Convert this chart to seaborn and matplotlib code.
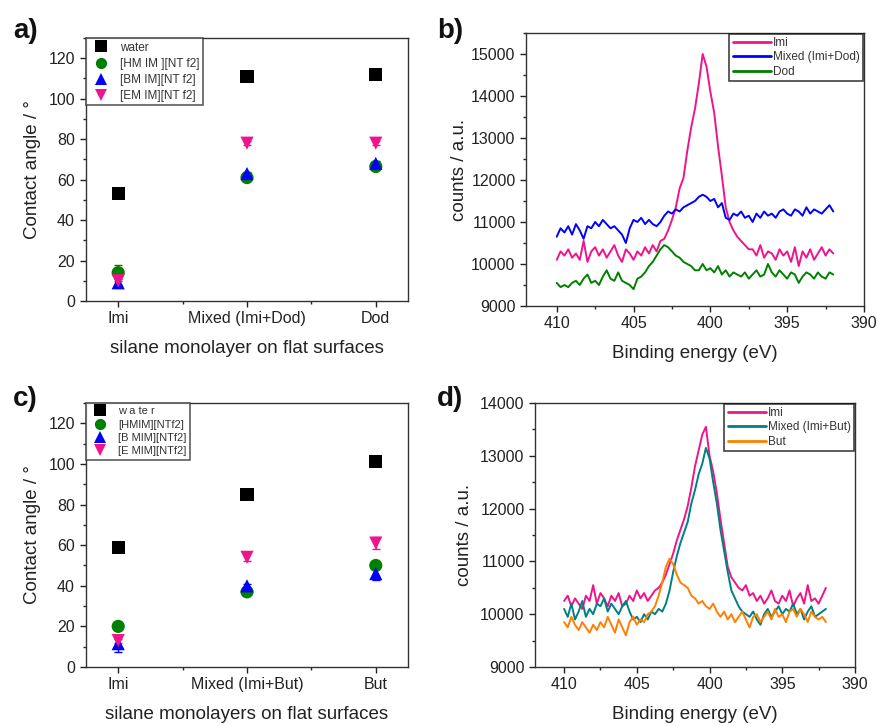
import numpy as np
import pandas as pd
import matplotlib
matplotlib.use("Agg")
import matplotlib.pyplot as plt
from matplotlib.ticker import AutoMinorLocator, MultipleLocator
import seaborn as sns

# ---------------- data ----------------
liquids = ["water", "[HMIM][NTf2]", "[BMIM][NTf2]", "[EMIM][NTf2]"]
liquid_labels_a = ["water", "[HM IM ][NT f2]", "[BM IM][NT f2]", "[EM IM][NT f2]"]
liquid_labels_c = ["w a te r", "[HMIM][NTf2]", "[B MIM][NTf2]", "[E MIM][NTf2]"]

surf_a = ["Imi", "Mixed (Imi+Dod)", "Dod"]
angle_a_water = [53, 111, 112]
angle_a_hmim = [14, 61, 66.5]
angle_a_bmim = [9, 63, 68]
angle_a_emim = [10, 78, 78]
err_a_water = [1, 1, 1.5]
err_a_hmim = [4, 1, 1]
err_a_bmim = [2, 1, 1]
err_a_emim = [2, 1, 1]

surf_c = ["Imi", "Mixed (Imi+But)", "But"]
angle_c_water = [59, 85, 101]
angle_c_hmim = [20, 37, 50]
angle_c_bmim = [11.5, 40, 46]
angle_c_emim = [13, 54, 61]
err_c_water = [1.5, 1, 1]
err_c_hmim = [2, 1, 1]
err_c_bmim = [4, 1, 3]
err_c_emim = [1, 2, 3]

energy = np.arange(410, 391.99, -0.25)

b_imi = [10100, 10300, 10200, 10350, 10150, 10250, 10100, 10550, 10050, 10300,
         10400, 10200, 10350, 10150, 10300, 10450, 10200, 10050, 10350, 10250,
         10100,
         10300, 10200, 10400, 10250, 10450, 10300, 10550,
         10600, 10800, 11050, 11350, 11800, 12050, 12700, 13250, 13700, 14300,
         15000, 14700, 14100, 13600, 12800, 12100, 11350, 11000, 10800, 10650,
         10550, 10450, 10350, 10350, 10200, 10450, 10150, 10300, 10250, 10100,
         10350, 10200, 10300, 10050, 10400, 9950, 10300, 10150, 10350, 10100,
         10250, 10400, 10200, 10350, 10250]
b_mixed = [10650, 10850, 10750, 10900, 10700, 10950, 10800, 10600, 10900, 10850,
           11000, 10900, 11050, 10950, 10850, 10900, 10800, 10700, 10500, 10850,
           11050,
           11000, 11100, 10950, 11050, 10950, 10900, 11000,
           11150, 11250, 11200, 11300, 11250, 11350, 11400, 11450, 11500, 11600,
           11650, 11600, 11500, 11550, 11350, 11450, 11100, 11050, 11200, 11150,
           11250, 11100, 11150, 11000, 11200, 11100, 11250, 11150, 11200, 11100,
           11250, 11300, 11200, 11150, 11300, 11250, 11150, 11350, 11200, 11300,
           11250, 11200, 11300, 11400, 11250]
b_dod = [9550, 9450, 9500, 9450, 9550, 9600, 9500, 9650, 9750, 9550,
         9600, 9500, 9700, 9850, 9650, 9600, 9800, 9600, 9550, 9500,
         9400,
         9650, 9700, 9800, 9950, 10050, 10200, 10350,
         10450, 10400, 10300, 10200, 10150, 10050, 10000, 9950, 9850, 9850,
         10000, 9850, 9900, 9800, 9950, 9750, 9850, 9700, 9800, 9750,
         9700, 9800, 9650, 9750, 9850, 9700, 9750, 10000, 9800, 9700,
         9850, 9750, 9650, 9800, 9750, 9550, 9700, 9800, 9750, 9650,
         9800, 9700, 9650, 9800, 9750]

d_imi = [10250, 10350, 10150, 10300, 10200, 10100, 10350, 10250, 10550, 10200,
         10400, 10300, 10150, 10350, 10250, 10400, 10150, 10200, 10350, 10250,
         10450,
         10300, 10400, 10250, 10350, 10450, 10500, 10600,
         10750, 10950, 11150, 11400, 11600, 11800, 12050, 12400, 12800, 13100,
         13400, 13550, 13000, 12700, 12300, 11800, 11350, 10900, 10700, 10600,
         10500, 10450, 10550, 10350, 10400, 10250, 10350, 10200, 10300, 10450,
         10250, 10200, 10350, 10250, 10450, 10150, 10300, 10400, 10200, 10550,
         10250, 10300, 10200, 10350, 10500]
d_mixed = [10100, 9950, 10200, 9900, 10050, 10250, 9950, 10100, 10000, 10200,
           10150, 10300, 10050, 10200, 10100, 10000, 10150, 10250, 10050, 9900,
           9950,
           9850, 10000, 9900, 10050, 10000, 10100, 10050,
           10200, 10450, 10800, 11100, 11350, 11550, 11750, 12100, 12350, 12650,
           12850, 13150, 12950, 12500, 12100, 11600, 11200, 10800, 10450, 10300,
           10150, 10050, 10000, 9950, 10050, 9900, 9800, 10000, 10100, 9950,
           10050, 10150, 10000, 10100, 10050, 10200, 10000, 10100, 9900, 10050,
           10150, 9950, 10000, 10050, 10100]
d_but = [9850, 9750, 9950, 9800, 9700, 9850, 9750, 9650, 9800, 9700,
         9850, 9750, 9950, 9800, 9650, 9900, 9750, 9600, 9850, 9950,
         9800,
         9900, 9850, 10000, 10050, 10150, 10350, 10600,
         10900, 11050, 10950, 10750, 10600, 10550, 10500, 10350, 10300, 10200,
         10250, 10150, 10100, 10200, 10050, 9950, 10050, 9900, 10000, 9850,
         9950, 10050, 9900, 9750, 9950, 10000, 9850, 9950, 10050, 9900,
         10100, 9950, 10000, 9850, 10050, 10100, 9950, 10100, 10000, 9850,
         10050, 9950, 9900, 9950, 9850]

# ---------------- style ----------------
sns.set_style("ticks")
plt.rcParams["font.family"] = ["Liberation Sans", "DejaVu Sans"]
plt.rcParams["axes.linewidth"] = 1.0
plt.rcParams["xtick.direction"] = "out"
plt.rcParams["ytick.direction"] = "out"

PINK = "#f0148c"
BLUE = "#0000ff"
GREEN = "#008000"
BLACK = "#000000"
TEAL = "#008080"
ORANGE = "#ff8000"

W, H = 878, 726
fig = plt.figure(figsize=(W / 100, H / 100), dpi=100)


def box(l, t, r, b):
    return [l / W, (H - b) / H, (r - l) / W, (b - t) / H]


ax_a = fig.add_axes(box(86, 38, 408, 301))
ax_b = fig.add_axes(box(526, 33, 864, 306))
ax_c = fig.add_axes(box(86, 403, 408, 667))
ax_d = fig.add_axes(box(535, 403, 855, 667))

liq_colors = [BLACK, GREEN, BLUE, PINK]
liq_markers = ["s", "o", "^", "v"]


def contact_panel(ax, surf, vals, errs, labels, xlabel, legend_fs, lspace):
    rows = []
    for lab, v in zip(labels, vals):
        for s, y in zip(surf, v):
            rows.append({"surface": s, "angle": y, "liquid": lab})
    df = pd.DataFrame(rows)
    for col, v, e in zip(liq_colors, vals, errs):
        ax.errorbar(surf, v, yerr=e, fmt="none", ecolor=col, elinewidth=1.0,
                    capsize=3, capthick=1.0, zorder=2)
    sns.scatterplot(data=df, x="surface", y="angle", hue="liquid", style="liquid",
                    palette=dict(zip(labels, liq_colors)),
                    markers=dict(zip(labels, liq_markers)),
                    hue_order=labels, style_order=labels,
                    s=90, linewidth=0, ax=ax, zorder=3)
    ax.set_xlim(-0.25, 2.25)
    ax.set_ylim(0, 130)
    ax.yaxis.set_major_locator(MultipleLocator(20))
    ax.yaxis.set_minor_locator(AutoMinorLocator(2))
    ax.set_xticks([0.5, 1.5], minor=True)
    ax.tick_params(axis="both", which="major", length=4, width=1, labelsize=11.5,
                   pad=4, colors="#222222")
    ax.tick_params(axis="both", which="minor", length=2.5, width=1)
    ax.tick_params(axis="x", which="major", pad=3.5)
    ax.set_xlabel(xlabel, fontsize=13.5, labelpad=10, color="#222222")
    ax.set_ylabel("Contact angle / °", fontsize=13.5, labelpad=5, color="#222222")
    for sp in ax.spines.values():
        sp.set_visible(True)
        sp.set_color("#333333")
    sns.move_legend(ax, "upper left", title=None, fontsize=legend_fs,
                    frameon=True, fancybox=False, borderaxespad=0.0,
                    handletextpad=0.6, labelspacing=lspace, borderpad=0.3,
                    markerscale=0.85)
    leg = ax.get_legend()
    leg.get_frame().set_edgecolor("#333333")
    leg.get_frame().set_linewidth(1.2)
    for t in leg.get_texts():
        t.set_color("#333333")


contact_panel(ax_a, surf_a,
              [angle_a_water, angle_a_hmim, angle_a_bmim, angle_a_emim],
              [err_a_water, err_a_hmim, err_a_bmim, err_a_emim],
              liquid_labels_a, "silane monolayer on flat surfaces", 8.5, 0.35)
contact_panel(ax_c, surf_c,
              [angle_c_water, angle_c_hmim, angle_c_bmim, angle_c_emim],
              [err_c_water, err_c_hmim, err_c_bmim, err_c_emim],
              liquid_labels_c, "silane monolayers on flat surfaces", 8.0, 0.3)


def xps_panel(ax, series, names, colors, ylim, ymaj, ymin, ylabelpad):
    rows = []
    for nm, vals in zip(names, series):
        for e, c in zip(energy, vals):
            rows.append({"energy": e, "counts": c, "sample": nm})
    df = pd.DataFrame(rows)
    sns.lineplot(data=df, x="energy", y="counts", hue="sample", hue_order=names,
                 palette=dict(zip(names, colors)), estimator=None, sort=False,
                 linewidth=1.4, ax=ax)
    ax.set_xlim(412, 390)
    ax.set_ylim(*ylim)
    ax.xaxis.set_major_locator(MultipleLocator(5))
    ax.xaxis.set_minor_locator(MultipleLocator(2.5))
    ax.yaxis.set_major_locator(MultipleLocator(ymaj))
    ax.yaxis.set_minor_locator(MultipleLocator(ymin))
    ax.tick_params(axis="both", which="major", length=4, width=1, labelsize=11.5,
                   colors="#222222")
    ax.tick_params(axis="both", which="minor", length=2.5, width=1)
    ax.tick_params(axis="x", which="major", pad=3.5)
    ax.set_xlabel("Binding energy (eV)", fontsize=13.5, labelpad=10, color="#222222")
    ax.set_ylabel("counts / a.u.", fontsize=13.5, labelpad=ylabelpad, color="#222222")
    for sp in ax.spines.values():
        sp.set_visible(True)
        sp.set_color("#333333")
    sns.move_legend(ax, "upper right", title=None, fontsize=8.5, frameon=True,
                    fancybox=False, borderaxespad=0.05, handlelength=3.2,
                    handletextpad=0.2, labelspacing=0.2, borderpad=0.3)
    leg = ax.get_legend()
    leg.get_frame().set_edgecolor("#111111")
    leg.get_frame().set_linewidth(1.2)
    for t in leg.get_texts():
        t.set_color("#333333")
    for ln in leg.get_lines():
        ln.set_linewidth(2.0)


xps_panel(ax_b, [b_imi, b_mixed, b_dod], ["Imi", "Mixed (Imi+Dod)", "Dod"],
          [PINK, BLUE, GREEN], (9000, 15500), 1000, 500, 2)
xps_panel(ax_d, [d_imi, d_mixed, d_but], ["Imi", "Mixed (Imi+But)", "But"],
          [PINK, TEAL, ORANGE], (9000, 14000), 1000, 500, 5)

for lab, x, y in [("a)", 13, 31), ("b)", 437, 31), ("c)", 13, 399), ("d)", 437, 399)]:
    fig.text(x / W, (H - y) / H, lab, fontsize=20, fontweight="bold",
             ha="left", va="center", color="#111111")

fig.savefig("out.png", dpi=100)
